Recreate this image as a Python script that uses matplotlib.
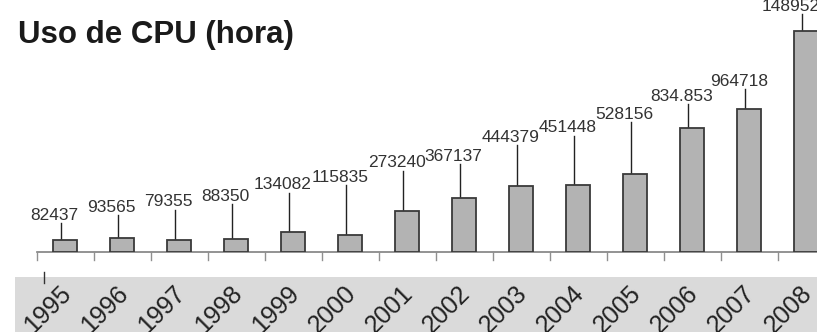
import matplotlib
matplotlib.use('Agg')
import matplotlib.pyplot as plt
import matplotlib.transforms as mtransforms
from matplotlib.patches import Rectangle

# data
years = ['1995', '1996', '1997', '1998', '1999', '2000', '2001',
         '2002', '2003', '2004', '2005', '2006', '2007', '2008']
cpu_hours = [82437, 93565, 79355, 88350, 134082, 115835, 273240,
             367137, 444379, 451448, 528156, 834853, 964718, 1489528]
value_labels = ['82437', '93565', '79355', '88350', '134082', '115835', '273240',
                '367137', '444379', '451448', '528156', '834.853', '964718', '1489528']

# where each value label sits (height of label centre, in data units)
label_heights = [249000, 303000, 337000, 377000, 452000, 505000, 600000,
                 647000, 775000, 836000, 930000, 1051000, 1152000, 1658000]

fig = plt.figure(figsize=(8.17, 3.32), dpi=100)
fig.patch.set_facecolor('white')

# grey band behind year labels
fig.patches.append(Rectangle((15 / 817, 0), 1, 55 / 332, transform=fig.transFigure,
                             facecolor='#dadada', edgecolor='none', zorder=-5))

ax = fig.add_axes([0, 80 / 332, 1, 252 / 332])
ax.set_facecolor('none')
x = list(range(len(years)))
ax.bar(x, cpu_hours, width=0.42, color='#b3b3b3', edgecolor='#3a3a3a', linewidth=1.3, zorder=3)
ax.set_xlim(-65 / 57, (817 - 65) / 57)
ax.set_ylim(0, 1698480)
for s in ax.spines.values():
    s.set_visible(False)
ax.set_xticks([])
ax.set_yticks([])

# baseline and ticks between bars
ax.plot([-0.5, 13.6], [0, 0], color='#808080', lw=1.2, clip_on=False, zorder=2)
tr = mtransforms.blended_transform_factory(ax.transData, fig.transFigure)
for i in range(len(years)):
    ax.plot([i - 0.5, i - 0.5], [80 / 332, 72 / 332], color='#909090', lw=1.0,
            transform=tr, clip_on=False)
ax.plot([-0.37, -0.37], [60 / 332, 49 / 332], color='#333333', lw=1.0,
        transform=tr, clip_on=False)

# value labels with leader lines
for i, v in enumerate(cpu_hours):
    ax.plot([i - 0.07, i - 0.07], [v, label_heights[i] - 8 * 6740], color='#222222', lw=1.0, zorder=2)
    ax.text(i - 0.18, label_heights[i], value_labels[i], ha='center', va='center',
            fontsize=12.5, color='#333333',
            family=['Liberation Sans Narrow', 'Liberation Sans', 'DejaVu Sans'], clip_on=False)

# year labels
for i, y in enumerate(years):
    ax.text(i - 0.3, 23 / 332, y, transform=tr, rotation=45, rotation_mode='anchor',
            ha='center', va='center', fontsize=18, color='#222222',
            family=['Liberation Sans', 'DejaVu Sans'])

fig.text(18 / 817, 1 - 35 / 332, 'Uso de CPU (hora)', ha='left', va='center',
         fontsize=22.5, fontweight='bold', color='#1a1a1a',
         family=['Liberation Sans', 'DejaVu Sans'])

fig.savefig('out.png', dpi=100)
